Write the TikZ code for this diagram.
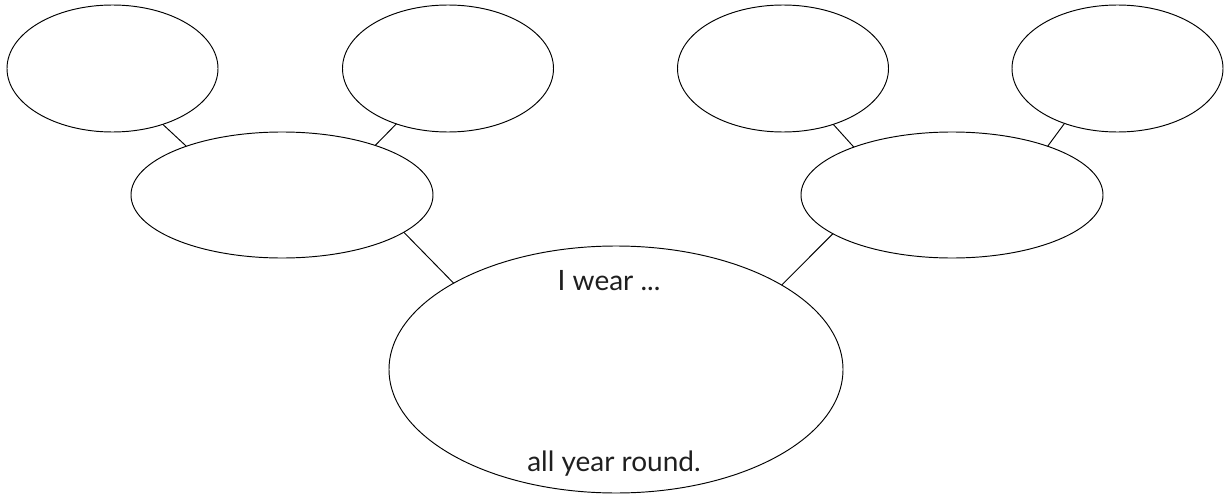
\documentclass[tikz,border=0pt]{standalone}
\usepackage{fontspec}
\setmainfont{Lato}
\usetikzlibrary{shapes.geometric}
\begin{document}
\begin{tikzpicture}[x=1pt,y=-1pt,
  bub/.style={draw, ellipse, line width=0.95pt, inner sep=0pt, outer sep=0pt},
  small/.style={bub, minimum width=211pt, minimum height=127pt},
  mid/.style={bub, minimum width=302pt, minimum height=126pt},
  big/.style={bub, minimum width=454pt, minimum height=247pt},
  con/.style={line width=0.95pt},
  lbl/.style={font=\fontsize{28}{32}\selectfont, text=black!88}]
\useasboundingbox (0,0) rectangle (1227,495);
\node[small] (t1) at (112.5,68.5) {};
\node[small] (t2) at (448,68.5) {};
\node[small] (t3) at (783,68.5) {};
\node[small] (t4) at (1117.5,68.5) {};
\node[mid] (ml) at (282,195) {};
\node[mid] (mr) at (952,195) {};
\node[big] (c) at (616,369.5) {};
\node[lbl] (w) at (609,281) {I wear ...};
\node[lbl] (r) at (614,464) {all year round.};
\draw[con] (t1.-48.3) -- (ml.153.7);
\draw[con] (t2.-133.1) -- (ml.28);
\draw[con] (t3.-48.6) -- (mr.154.6);
\draw[con] (t4.-134.7) -- (mr.27.5);
\draw[con] (ml.-17.9) -- (c.152.2);
\draw[con] (mr.-162.1) -- (c.27.4);
\end{tikzpicture}
\end{document}
